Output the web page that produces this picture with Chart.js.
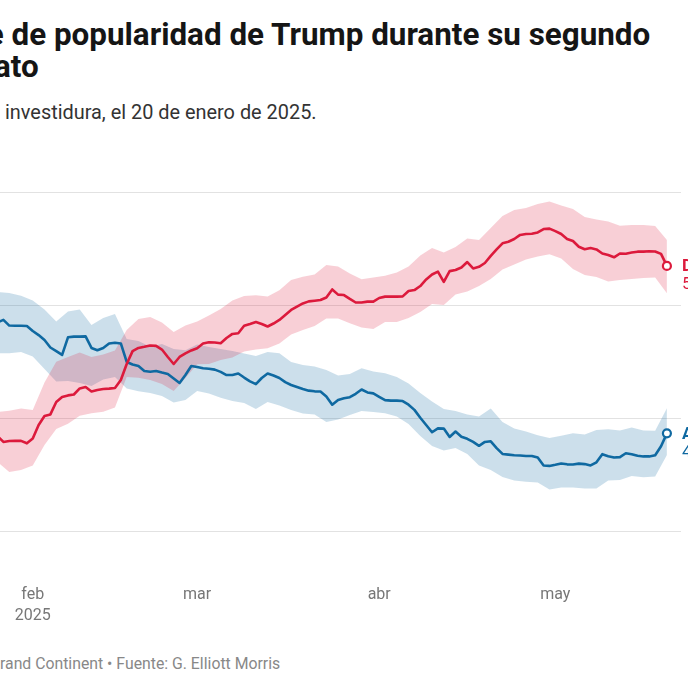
<!DOCTYPE html>
<html><head><meta charset="utf-8">
<script src="https://cdn.jsdelivr.net/npm/chart.js@4.4.1/dist/chart.umd.min.js"></script>
<style>
html,body{margin:0;padding:0;width:688px;height:688px;overflow:hidden;background:#fff;font-family:Roboto,"Noto Sans",sans-serif;}
.t{position:absolute;white-space:nowrap;}
.pre{position:absolute;right:100%;top:0;}
.title{font-weight:700;font-size:31.4px;line-height:32px;color:#151515;}
.sub{font-size:19.9px;line-height:24px;color:#333;}
.foot{font-size:15.8px;line-height:19px;color:#888;}
#wrap{position:absolute;left:-80px;top:150px;width:768px;height:480px;}
</style></head><body>
<div class="t title" style="left:11.5px;top:19px"><span class="pre">Índice&nbsp;</span>de popularidad de Trump durante su segundo</div>
<div class="t title" style="left:-6px;top:51px"><span class="pre">mand</span>ato</div>
<div class="t sub" style="left:5px;top:101px"><span class="pre">Desde su&nbsp;</span>investidura, el 20 de enero de 2025.</div>
<div class="t foot" style="left:0px;top:654px"><span class="pre">Gráfico: Le G</span>rand Continent • Fuente: G. Elliott Morris</div>
<div id="wrap"><canvas id="c" width="768" height="480" style="width:768px;height:480px"></canvas></div>
<script>
// x = days since inauguration (20 Jan 2025)
const days = Array.from({length:121},(_,i)=>i);
const bandDays = Array.from({length:61},(_,i)=>i*2);
const seriesNames = ['Desaprobación','Aprobación'];
const monthTicks = [12,40,71,101];
const monthLabels = [['feb','2025'],'mar','abr','may'];
const yTicks = [40,45,50,55];

const approve = [
49.5,49.5,49.4,49.4,49.3,49.3,
49.23,49.34,49.09,49.08,49.08,49.07,
48.85,48.67,48.45,48.12,47.96,47.79,
48.57,48.6,48.6,48.61,48.1,48.0,
48.1,48.3,48.33,48.3,47.48,47.37,
47.3,47.08,47.05,47.08,47.01,46.95,
46.75,46.55,46.9,47.3,47.26,47.2,
47.18,47.14,47.04,46.9,46.9,46.97,
46.79,46.62,46.5,46.77,46.97,46.88,
46.77,46.59,46.46,46.37,46.28,46.21,
46.18,46.17,45.95,45.59,45.8,45.87,
45.92,46.07,46.26,46.13,46.09,45.94,
45.79,45.77,45.77,45.75,45.59,45.36,
45.01,44.69,44.37,44.54,44.53,44.16,
44.4,44.17,44.08,43.94,43.77,43.94,
43.97,43.67,43.41,43.38,43.35,43.34,
43.32,43.32,43.25,42.9,42.88,42.93,
42.99,42.95,42.94,42.98,42.96,42.9,
43.04,43.4,43.31,43.25,43.27,43.44,
43.4,43.33,43.3,43.3,43.35,43.75,
44.32];
const disapprove = [
44.0,44.0,44.1,44.1,44.2,44.2,
44.2,43.94,43.98,43.99,43.99,43.88,
44.09,44.69,45.09,45.16,45.71,45.93,
46.0,46.04,46.31,46.37,46.17,46.24,
46.28,46.3,46.33,46.68,47.39,47.96,
48.1,48.15,48.21,48.19,48.03,47.7,
47.39,47.7,47.86,47.99,48.09,48.3,
48.35,48.34,48.31,48.54,48.72,48.75,
49.08,49.16,49.25,49.16,49.05,49.18,
49.34,49.56,49.78,49.93,50.07,50.16,
50.19,50.22,50.33,50.69,50.46,50.44,
50.27,50.11,50.11,50.15,50.15,50.31,
50.37,50.37,50.37,50.38,50.62,50.66,
50.84,51.13,51.35,51.48,51.02,51.5,
51.55,51.66,51.9,51.62,51.69,51.86,
52.17,52.46,52.73,52.8,52.92,53.1,
53.14,53.15,53.21,53.36,53.38,53.27,
53.14,52.92,52.83,52.58,52.47,52.52,
52.46,52.28,52.21,52.11,52.28,52.27,
52.32,52.36,52.36,52.38,52.37,52.26,
51.73];
const approveHigh = [
50.66,50.66,50.62,50.58,50.53,50.41,50.2,49.8,49.27,49.71,
49.8,49.12,49.42,49.6,48.5,48.41,48.15,48.27,48.05,48.0,
48.25,48.14,48.05,47.96,47.85,47.74,47.92,47.86,47.48,47.35,
47.28,47.12,46.88,46.95,47.2,47.06,46.98,46.81,46.53,46.11,
45.73,45.4,45.31,45.15,45.07,45.42,44.82,44.54,44.4,44.24,
44.12,44.22,44.32,44.27,44.47,44.5,44.45,44.58,44.45,44.44,
45.43];
const approveLow = [
47.88,47.88,47.88,47.86,47.86,47.92,47.72,47.17,46.62,46.64,
46.55,46.42,46.7,46.81,46.31,46.18,46.11,45.97,45.69,45.8,
46.19,46.08,45.9,45.75,45.66,45.4,45.71,45.55,45.35,45.2,
45.15,44.82,44.93,45.13,45.31,45.27,45.21,45.07,44.73,44.2,
43.76,43.56,43.67,43.41,42.9,42.7,42.39,42.23,42.18,42.15,
41.84,41.93,41.93,41.88,41.88,42.24,42.26,42.43,42.38,42.41,
43.36];
const disapproveHigh = [
45.27,45.27,45.27,45.27,45.32,45.42,45.35,46.57,47.49,47.7,
47.9,47.7,47.81,47.99,48.89,49.38,49.47,49.23,48.81,49.09,
49.27,49.54,49.82,50.2,50.4,50.43,50.38,50.65,51.11,51.25,
51.35,51.77,51.7,51.39,51.14,51.22,51.29,51.44,51.7,52.19,
52.52,52.32,52.57,52.94,52.88,53.41,53.94,54.2,54.29,54.47,
54.58,54.4,54.25,53.89,53.78,53.69,53.51,53.54,53.54,53.5,
52.88];
const disapproveLow = [
43.05,43.05,43.05,43.05,42.61,42.7,42.9,43.81,44.51,44.75,
45.1,45.21,45.28,45.46,46.81,46.78,46.68,46.5,46.19,46.77,
47.38,47.39,47.57,47.68,47.94,48.03,48.09,48.3,48.69,48.89,
49.07,49.4,49.4,49.19,49.0,48.94,49.25,49.25,49.42,49.69,
50.04,50.0,50.46,50.6,50.84,51.15,51.57,51.79,52.01,52.15,
52.25,52.06,51.59,51.33,51.24,51.04,51.11,51.15,51.19,51.22,
50.52];

const RED = '#dc1a3c', BLUE = '#0f69a1';
const RED_BAND = 'rgba(220,26,60,0.21)', BLUE_BAND = 'rgba(15,105,161,0.21)';
const pts = (xs, ys) => ys.map((y,i)=>({x:xs[i], y}));
const lastIdx = days.length - 1;

function lineDs(label, ys, color){
  return {label, data: pts(days, ys), borderColor: color, borderWidth: 2.6,
    pointRadius: c => c.dataIndex === lastIdx ? 4 : 0,
    pointBackgroundColor: '#fff', pointBorderColor: color, pointBorderWidth: 2.2,
    fill: false, tension: 0, order: 0, borderJoinStyle: 'round'};
}
function bandDs(label, ys, fill, bg){
  return {label, data: pts(bandDays, ys), borderColor: 'transparent', borderWidth: 0,
    pointRadius: 0, fill, backgroundColor: bg, tension: 0, order: 1};
}

const endLabels = {
  id: 'endLabels',
  afterDatasetsDraw(chart){
    const {ctx, chartArea} = chart;
    [[0, RED], [1, BLUE]].forEach(([i, color]) => {
      const meta = chart.getDatasetMeta(i);
      const p = meta.data[lastIdx];
      const v = chart.data.datasets[i].data[lastIdx].y;
      ctx.save();
      ctx.fillStyle = color;
      ctx.textBaseline = 'middle';
      ctx.textAlign = 'left';
      ctx.font = 'bold 17px Roboto';
      ctx.fillText(seriesNames[i], chartArea.right + 1, p.y + 1);
      ctx.font = '17px Roboto';
      ctx.fillText(v.toFixed(1).replace('.', ',') + '%', chartArea.right + 1, p.y + 19);
      ctx.restore();
    });
  }
};

new Chart(document.getElementById('c'), {
  type: 'line',
  data: { datasets: [
    lineDs(seriesNames[0], disapprove, RED),
    lineDs(seriesNames[1], approve, BLUE),
    bandDs('dLow', disapproveLow, false, 'transparent'),
    bandDs('dHigh', disapproveHigh, '-1', RED_BAND),
    bandDs('aLow', approveLow, false, 'transparent'),
    bandDs('aHigh', approveHigh, '-1', BLUE_BAND)
  ]},
  options: {
    responsive: false, animation: false,
    layout: { padding: { left: 12.94, right: 7, top: 42, bottom: 0 } },
    plugins: { legend: { display: false }, tooltip: { enabled: false } },
    scales: {
      x: { type: 'linear', min: -5, max: 122.4,
        grid: { display: false, drawTicks: false }, border: { display: false },
        afterBuildTicks: s => { s.ticks = monthTicks.map(v => ({value: v})); },
        afterFit: s => { s.height = 99; },
        ticks: { autoSkip: false, maxRotation: 0, padding: 54, color: '#777',
          font: { family: 'Roboto', size: 16, lineHeight: 1.3 },
          callback: v => monthLabels[monthTicks.indexOf(v)] } },
      y: { min: 40, max: 55,
        afterBuildTicks: s => { s.ticks = yTicks.map(v => ({value: v})); },
        afterFit: s => { s.width = 0; },
        ticks: { display: false },
        grid: { color: '#e2e2e2', lineWidth: 1, drawTicks: false },
        border: { display: false } }
    }
  },
  plugins: [endLabels]
});
</script>
</body></html>
